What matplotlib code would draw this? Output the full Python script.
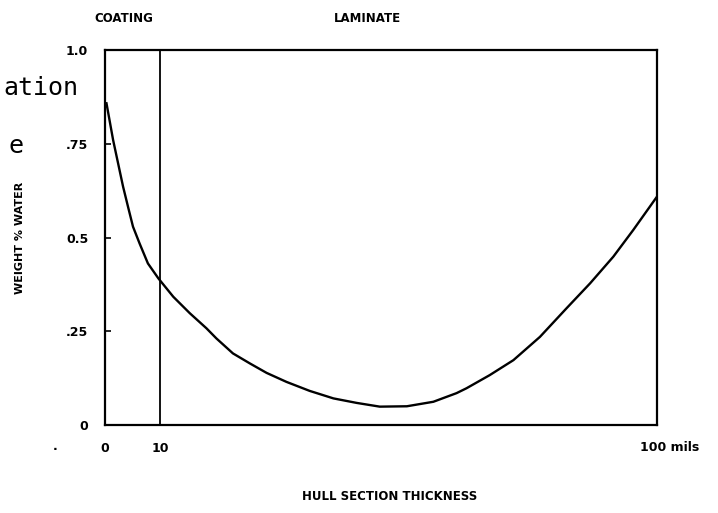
import matplotlib
matplotlib.use("Agg")
import matplotlib.pyplot as plt

# thickness (mils) vs weight % water
thickness = [0.3, 1.5, 2.4, 3.3, 4.2, 5.1, 6.3, 7.8, 9.7, 12.4, 15.4, 18.4,
             20.2, 23.2, 26.3, 29.3, 32.9, 37.1, 41.4, 45.6, 49.8, 54.7,
             59.5, 63.7, 65.5, 69.7, 74.0, 78.8, 83.6, 87.9, 92.1, 95.7,
             100]
water = [0.858, 0.76, 0.698, 0.636, 0.582, 0.529, 0.484, 0.431, 0.391,
         0.342, 0.298, 0.258, 0.231, 0.191, 0.164, 0.139, 0.115, 0.091,
         0.071, 0.059, 0.049, 0.050, 0.062, 0.085, 0.098, 0.133, 0.173,
         0.235, 0.311, 0.378, 0.449, 0.52, 0.609]

y_ticks = [0, 0.25, 0.5, 0.75, 1.0]
y_ticklabels = ["0", ".25", "0.5", ".75", "1.0"]
x_ticks = [0, 10]
x_ticklabels = ["0", "10"]
coating_edge = 10

fig = plt.figure(figsize=(7.18, 5.13), dpi=100)
ax = fig.add_axes([0.146, 0.1715, 0.769, 0.731])

ax.plot(thickness, water, color="black", lw=1.7, solid_joinstyle="round")
ax.axvline(coating_edge, color="black", lw=1.3)

ax.set_xlim(0, 100)
ax.set_ylim(0, 1.0)
ax.set_yticks(y_ticks)
ax.set_yticklabels(y_ticklabels, fontsize=9, fontweight="bold")
ax.set_xticks(x_ticks)
ax.set_xticklabels(x_ticklabels, fontsize=9, fontweight="bold")
ax.tick_params(axis="y", direction="in", length=4, width=1.2, pad=12)
ax.tick_params(axis="x", length=0, pad=12)
for s in ax.spines.values():
    s.set_linewidth(1.6)

ax.annotate("100 mils", xy=(100, 0), xycoords="data", xytext=(13, -22),
            textcoords="offset pixels", ha="center", va="center",
            fontsize=9, fontweight="bold")

fig.text(124 / 718, 1 - 18 / 513, "COATING", ha="center", va="center",
         fontsize=8.5, fontweight="bold")
fig.text(367 / 718, 1 - 18 / 513, "LAMINATE", ha="center", va="center",
         fontsize=8.5, fontweight="bold")
fig.text(390 / 718, 1 - 497 / 513, "HULL SECTION THICKNESS", ha="center",
         va="center", fontsize=8.5, fontweight="bold")
fig.text(20 / 718, 1 - 238 / 513, "WEIGHT % WATER", rotation=90,
         ha="center", va="center", fontsize=8, fontweight="bold")

# clipped caption fragments at the left edge of the scan
fig.text(78 / 718, 1 - 88 / 513, "ation", ha="right", va="center",
         fontsize=18, family="DejaVu Sans Mono")
fig.text(24 / 718, 1 - 146 / 513, "e", ha="right", va="center",
         fontsize=18, family="DejaVu Sans Mono")
fig.text(55 / 718, 1 - 447 / 513, ".", ha="center", va="center",
         fontsize=9, fontweight="bold")

fig.savefig("out.png", dpi=100)
